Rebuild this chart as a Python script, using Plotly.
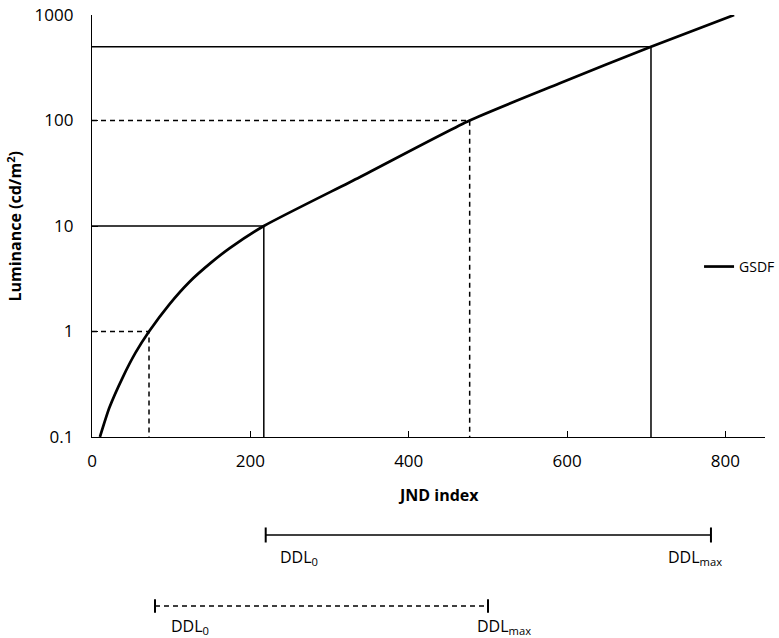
import plotly.graph_objects as go

# GSDF curve
jnd_index = [10, 22, 39, 55, 72, 98, 123, 150, 174, 217, 338, 477, 590, 706, 811]
luminance = [0.1, 0.19, 0.37, 0.63, 1, 1.82, 2.95, 4.47, 6.17, 10, 29, 100, 224, 500, 1000]

# reference levels (luminance, JND index, dashed?)
ref_lum = [1, 10, 100, 500]
ref_jnd = [72, 217, 477, 706]
ref_dash = [True, False, True, False]

x_ticks = [0, 200, 400, 600, 800]
y_ticks = [0.1, 1, 10, 100, 1000]
y_tick_text = ["0.1", "1", "10", "100", "1000"]

FONT = "Open Sans"

fig = go.Figure()

for L, j, d in zip(ref_lum, ref_jnd, ref_dash):
    fig.add_trace(go.Scatter(
        x=[0, j, j], y=[L, L, 0.1], mode="lines",
        line=dict(color="black", width=1.5, dash="5px,4px" if d else "solid"),
        showlegend=False, hoverinfo="skip"))

fig.add_trace(go.Scatter(
    x=jnd_index, y=luminance, mode="lines", name="GSDF",
    line=dict(color="black", width=2.7, shape="spline", smoothing=0.6)))

fig.update_layout(
    width=779, height=638,
    margin=dict(l=92, r=14, t=15, b=201, autoexpand=False),
    paper_bgcolor="white", plot_bgcolor="white",
    font=dict(family=FONT, size=17, color="black"),
    showlegend=True,
    legend=dict(x=0.902, y=0.403, xanchor="left", yanchor="middle",
                bgcolor="rgba(0,0,0,0)", font=dict(size=14),
                itemwidth=30, borderwidth=0),
    xaxis=dict(range=[0, 850], tickvals=x_ticks, ticks="inside", ticklen=6,
               tickwidth=1, tickcolor="black", showline=True, linecolor="black",
               linewidth=1.3, showgrid=False, zeroline=False, automargin=False,
               ticklabelstandoff=8),
    yaxis=dict(type="log", range=[-1, 3], tickvals=y_ticks, ticktext=y_tick_text,
               ticks="inside", ticklen=6, tickwidth=1, tickcolor="black",
               showline=True, linecolor="black", linewidth=1.3, showgrid=False,
               zeroline=False, automargin=False, ticklabelstandoff=14),
)

# axis titles
fig.add_annotation(x=0.515, y=-0.138, xref="paper", yref="paper",
                   text="<b>JND index</b>", showarrow=False,
                   xanchor="center", yanchor="middle", font=dict(size=16))
fig.add_annotation(x=-0.115, y=0.5, xref="paper", yref="paper",
                   text="<b>Luminance (cd/m<sup>2</sup>)</b>", showarrow=False,
                   textangle=-90, xanchor="center", yanchor="middle",
                   font=dict(size=16))

# range bars under the chart (diagram annotations, paper coordinates)
def range_bar(x0, x1, y, cap, dash):
    fig.add_shape(type="line", xref="paper", yref="paper", x0=x0, x1=x1, y0=y, y1=y,
                  line=dict(color="black", width=1.5, dash=dash))
    for xx in (x0, x1):
        fig.add_shape(type="line", xref="paper", yref="paper", x0=xx, x1=xx,
                      y0=y - cap, y1=y + cap, line=dict(color="black", width=2))

range_bar(0.2581, 0.9197, -0.2322, 0.0178, "solid")
range_bar(0.0936, 0.5884, -0.4005, 0.0160, "5px,4px")

labels = [
    (0.2764, -0.2844, "DDL<sub>0</sub>"),
    (0.853, -0.2844, "DDL<sub>max</sub>"),
    (0.1144, -0.450, "DDL<sub>0</sub>"),
    (0.569, -0.450, "DDL<sub>max</sub>"),
]
for x, y, t in labels:
    fig.add_annotation(x=x, y=y, xref="paper", yref="paper", text=t, showarrow=False,
                       xanchor="left", yanchor="middle", font=dict(size=16))

fig.write_html("out.html")
